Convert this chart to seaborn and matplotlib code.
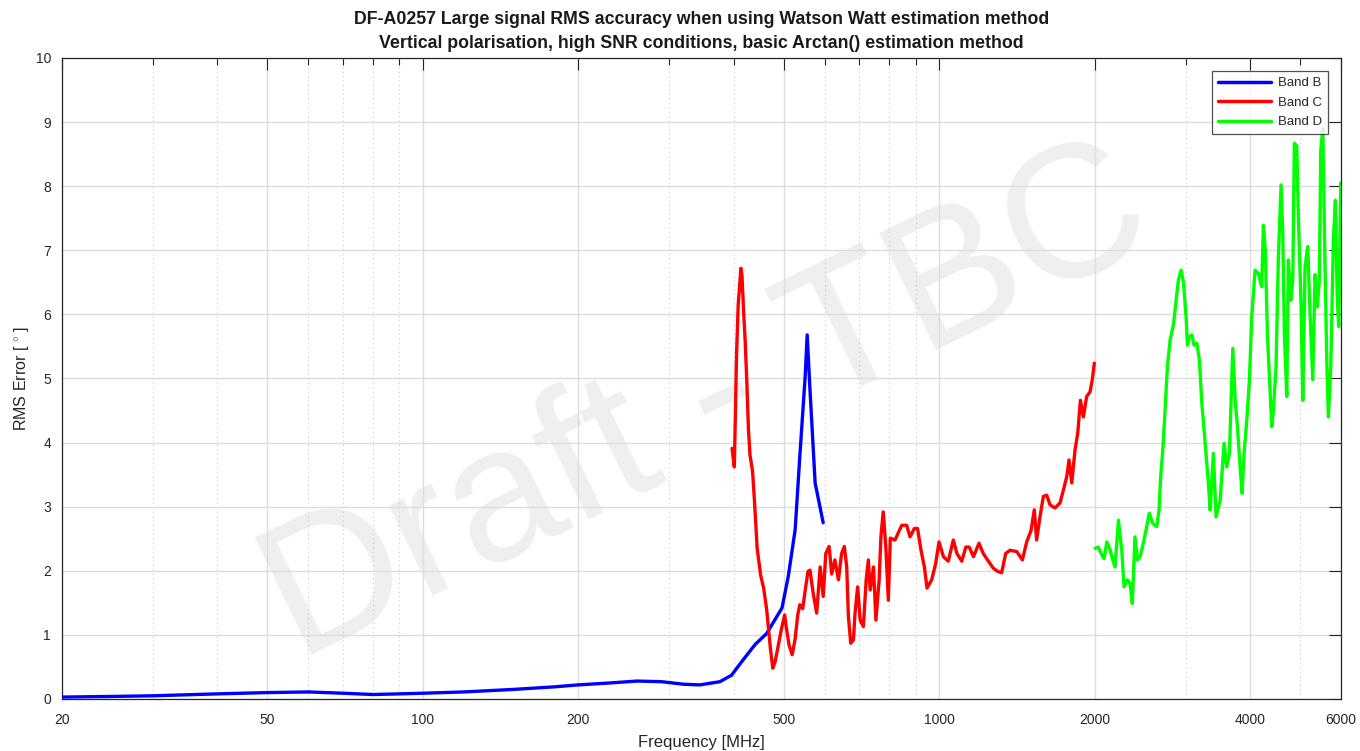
import numpy as np
import pandas as pd
import matplotlib
matplotlib.use("Agg")
import matplotlib.pyplot as plt
import seaborn as sns

# ---------------- data ----------------
band_b_freq = [20, 25, 30, 40, 50, 60, 70, 80, 90, 100, 120, 150, 180, 200, 230, 260, 290, 320,
               344, 376, 396, 417, 440, 463, 496, 510, 526, 537, 550, 555, 562, 575, 596]
band_b_err = [0.03, 0.04, 0.05, 0.08, 0.10, 0.11, 0.09, 0.07, 0.08, 0.09, 0.11, 0.15, 0.19, 0.22,
              0.25, 0.28, 0.27, 0.23, 0.22, 0.27, 0.37, 0.61, 0.85, 1.02, 1.42, 1.91, 2.64, 3.78,
              5.03, 5.68, 4.82, 3.37, 2.75]

band_c_freq = [397, 401, 403, 405, 408, 413, 415, 418, 421, 424, 427, 430, 435, 438, 441, 444, 451,
               457, 463, 467, 471, 476, 481, 488, 495, 502, 507, 512, 519, 526, 532, 537, 544, 552,
               557, 562, 570, 579, 588, 596, 603, 612, 619, 628, 638, 647, 655, 662, 667, 674, 682,
               687, 695, 703, 713, 722, 729, 735, 746, 754, 765, 771, 779, 788, 797, 804, 821, 846,
               865, 878, 895, 908, 922, 936, 947, 967, 984, 999, 1019, 1041, 1065, 1082, 1106, 1126,
               1143, 1165, 1194, 1217, 1245, 1273, 1298, 1321, 1345, 1371, 1413, 1449, 1477, 1506,
               1528, 1544, 1568, 1591, 1615, 1639, 1676, 1714, 1740, 1766, 1784, 1806, 1832, 1855,
               1877, 1902, 1930, 1959, 1979, 1997]
band_c_err = [3.91, 3.62, 4.48, 5.37, 6.15, 6.72, 6.60, 6.04, 5.57, 4.95, 4.22, 3.81, 3.55, 3.18,
              2.77, 2.35, 1.93, 1.73, 1.41, 1.10, 0.79, 0.48, 0.58, 0.84, 1.10, 1.31, 1.05, 0.84,
              0.69, 0.94, 1.31, 1.47, 1.41, 1.78, 1.99, 2.01, 1.65, 1.34, 2.06, 1.60, 2.27, 2.38,
              1.95, 2.17, 1.86, 2.27, 2.38, 2.06, 1.28, 0.87, 0.92, 1.34, 1.75, 1.23, 1.13, 1.86,
              2.17, 1.70, 2.06, 1.23, 1.86, 2.53, 2.92, 2.38, 1.54, 2.51, 2.48, 2.71, 2.71, 2.53,
              2.66, 2.66, 2.32, 2.06, 1.73, 1.86, 2.11, 2.45, 2.22, 2.15, 2.48, 2.27, 2.15, 2.37,
              2.37, 2.22, 2.43, 2.27, 2.15, 2.04, 1.99, 1.97, 2.27, 2.32, 2.30, 2.17, 2.45, 2.63,
              2.95, 2.48, 2.85, 3.16, 3.18, 3.03, 2.98, 3.06, 3.26, 3.47, 3.73, 3.37, 3.88, 4.15,
              4.66, 4.40, 4.72, 4.79, 4.98, 5.24]

band_d_freq = [2004, 2033, 2064, 2086, 2112, 2142, 2168, 2190, 2224, 2257, 2280, 2314, 2342, 2366,
               2394, 2420, 2449, 2485, 2523, 2552, 2591, 2638, 2665, 2685, 2710, 2738, 2766, 2800,
               2842, 2876, 2906, 2941, 2972, 3007, 3025, 3052, 3085, 3116, 3154, 3191, 3226, 3274,
               3322, 3347, 3396, 3437, 3500, 3562, 3605, 3648, 3703, 3742, 3781, 3826, 3860, 3894,
               3942, 3988, 4030, 4090, 4150, 4213, 4244, 4282, 4321, 4360, 4406, 4438, 4491, 4538,
               4593, 4628, 4661, 4711, 4745, 4796, 4839, 4874, 4926, 4962, 5022, 5060, 5111, 5173,
               5227, 5290, 5345, 5400, 5448, 5482, 5532, 5588, 5631, 5671, 5733, 5799, 5852, 5902,
               5941, 5993]
band_d_err = [2.35, 2.37, 2.25, 2.19, 2.45, 2.33, 2.17, 2.06, 2.79, 2.32, 1.75, 1.86, 1.80, 1.49,
              2.53, 2.17, 2.22, 2.43, 2.69, 2.90, 2.74, 2.69, 2.95, 3.47, 3.88, 4.51, 5.18, 5.60,
              5.84, 6.22, 6.54, 6.69, 6.50, 5.96, 5.52, 5.65, 5.68, 5.52, 5.55, 5.29, 4.61, 3.99,
              3.36, 2.95, 3.83, 2.84, 3.10, 3.99, 3.62, 3.83, 5.47, 4.66, 4.25, 3.62, 3.21, 3.83,
              4.35, 4.98, 5.96, 6.69, 6.64, 6.43, 7.39, 7.00, 5.70, 5.03, 4.25, 4.50, 5.18, 6.90,
              8.02, 7.27, 5.70, 4.72, 6.85, 6.22, 6.54, 8.67, 8.63, 7.52, 6.12, 4.66, 6.74, 7.06,
              6.00, 4.98, 6.62, 6.12, 6.54, 8.56, 8.90, 6.74, 5.29, 4.40, 5.18, 7.16, 7.78, 6.22,
              5.81, 8.05]

band_names = ["Band B", "Band C", "Band D"]
band_colors = ["#0000ff", "#ff0000", "#00ff00"]

x_major_ticks = [20, 50, 100, 200, 500, 1000, 2000, 4000, 6000]
x_minor_ticks = [30, 40, 60, 70, 80, 90, 300, 400, 600, 700, 800, 900, 3000, 5000]
y_ticks = list(range(0, 11))

title_1 = "DF-A0257 Large signal RMS accuracy when using Watson Watt estimation method"
title_2 = "Vertical polarisation, high SNR conditions, basic Arctan() estimation method"

# ---------------- frame ----------------
frames = []
for name, f, e in zip(band_names, [band_b_freq, band_c_freq, band_d_freq],
                      [band_b_err, band_c_err, band_d_err]):
    frames.append(pd.DataFrame({"Frequency": f, "Error": e, "Band": name}))
df = pd.concat(frames, ignore_index=True)

sns.set_style("white")
plt.rcParams["font.family"] = ["Liberation Sans", "DejaVu Sans"]
plt.rcParams["mathtext.fontset"] = "custom"
plt.rcParams["mathtext.rm"] = "Liberation Sans"

fig = plt.figure(figsize=(13.6, 7.51), dpi=100)
ax = fig.add_axes([62 / 1360, 52 / 751, (1341 - 62) / 1360, (699 - 58) / 751])

sns.lineplot(data=df, x="Frequency", y="Error", hue="Band", palette=band_colors,
             hue_order=band_names, sort=False, estimator=None, linewidth=2.4, ax=ax, zorder=3)

ax.set_xscale("log")
ax.set_xlim(20, 6000)
ax.set_ylim(0, 10)
ax.set_xticks(x_major_ticks)
ax.set_xticklabels([str(t) for t in x_major_ticks])
ax.set_xticks(x_minor_ticks, minor=True)
ax.set_xticklabels([], minor=True)
ax.set_yticks(y_ticks)
ax.set_yticklabels([str(t) for t in y_ticks])

ax.set_axisbelow(True)
ax.grid(True, which="major", axis="both", color="#dcdcdc", linewidth=1.0, linestyle="-")
ax.grid(True, which="minor", axis="x", color="#c8c8c8", linewidth=0.8, linestyle=(0, (1, 3)))

ax.tick_params(which="both", direction="in", top=True, right=True, colors="#262626",
               labelsize=10, labelcolor="#262626")
ax.tick_params(axis="x", which="major", length=8.5, width=0.8, pad=10)
ax.tick_params(axis="y", which="major", length=8.5, width=0.8, pad=8)
ax.tick_params(which="minor", length=5, width=0.8)
for s in ax.spines.values():
    s.set_color("#262626")
    s.set_linewidth(0.9)

ax.set_xlabel("Frequency [MHz]", fontsize=12, color="#262626", labelpad=6)
ax.set_ylabel(r"RMS Error [ $^{\circ}$ ]", fontsize=11.5, color="#262626", labelpad=3)

# watermark
ax.text(0.505, 0.455, "Draft - TBC", transform=ax.transAxes, rotation=26,
        rotation_mode="anchor", ha="center", va="center", fontsize=137,
        color="#efefef", zorder=0.2)

cx = (62 + 1341) / 2 / 1360
fig.text(cx, 1 - 20 / 751, title_1, ha="center", va="center", fontsize=12.8,
         fontweight="bold", color="#1a1a1a")
fig.text(cx, 1 - 44 / 751, title_2, ha="center", va="center", fontsize=12.8,
         fontweight="bold", color="#1a1a1a")

leg = ax.legend(loc="upper right", fontsize=9.5, frameon=True, fancybox=False,
                handlelength=4, borderaxespad=1.0, labelspacing=0.55, borderpad=0.45,
                handletextpad=0.5)
leg.get_frame().set_edgecolor("#262626")
leg.get_frame().set_linewidth(0.9)
for line in leg.get_lines():
    line.set_linewidth(2.5)

fig.savefig("out.png", dpi=100)
